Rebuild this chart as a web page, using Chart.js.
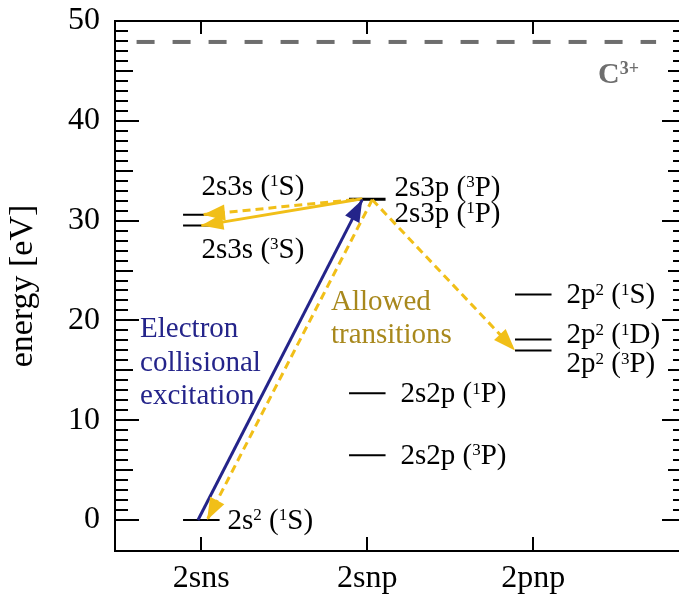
<!DOCTYPE html>
<html>
<head>
<meta charset="utf-8">
<script src="https://cdn.jsdelivr.net/npm/chart.js@4.4.1/dist/chart.umd.min.js"></script>
<style>
  html, body { margin: 0; padding: 0; background: #fff; overflow: hidden; }
  canvas { display: block; }
</style>
</head>
<body>
<canvas id="chart" width="679" height="599"></canvas>
<script>
// Configuration columns of the C III term diagram
const columns = ['2sns', '2snp', '2pnp'];
const columnPos = [0, 1, 2];

// Energy levels (eV) and which column they belong to; "^" marks a superscript
const levelNames  = ['2s^2 (^1S)', '2s2p (^3P)', '2s2p (^1P)', '2p^2 (^3P)', '2p^2 (^1D)', '2p^2 (^1S)', '2s3s (^3S)', '2s3s (^1S)', '2s3p (^1P)', '2s3p (^3P)'];
const levelColumn = [0, 1, 1, 2, 2, 2, 0, 0, 1, 1];
const levelEnergy = [0, 6.5, 12.7, 17.0, 18.1, 22.6, 29.5, 30.6, 32.1, 32.2];

// Ionisation limit to C3+
const ionLimit = 47.9;
const ionLabel = 'C^{3+}';

// Transitions: start and end points (column coordinate, energy in eV)
const excitationFrom = [-0.02, 0];
const excitationTo   = [0.97, 32.1];
const decayFromX = [1.03, 1.03, 0.92, 0.97];
const decayFromY = [32.1, 32.1, 32.1, 32.2];
const decayToX   = [0.035, 1.89, 0.01, 0.0];
const decayToY   = [0, 17.0, 30.6, 29.5];
const decayDashed = [true, true, true, false];

const yTickValues = [0, 10, 20, 30, 40, 50];

// ---- styling / layout -------------------------------------------------
const SERIF = '"Liberation Serif", "Times New Roman", serif';
const BLUE = '#24248a';
const YELLOW = '#f1bf18';
const GOLD = '#a8881c';
const GREY = '#6e6e6e';
const HALF = 0.11;          // half-width of a level bar in column units
const RIGHT_SPINE = 7;      // right spine sits just past the canvas edge
// label offsets: [dx from level's right end, baseline dy from the level], px
const labelOffset = [[8, 9], [15, 9], [15, 9], [15, 22], [15, 4], [15, 9], [-18, 32], [-18, -20], [9, 22], [9, -3]];

function parseRich(s) {
  const parts = [];
  let buf = '', i = 0;
  while (i < s.length) {
    if (s[i] === '^') {
      if (buf) { parts.push({ t: buf, sup: false }); buf = ''; }
      if (s[i + 1] === '{') {
        const j = s.indexOf('}', i);
        parts.push({ t: s.slice(i + 2, j), sup: true });
        i = j + 1;
      } else {
        parts.push({ t: s[i + 1], sup: true });
        i += 2;
      }
    } else { buf += s[i]; i++; }
  }
  if (buf) parts.push({ t: buf, sup: false });
  return parts;
}

function drawRich(ctx, s, x, y, size, color, weight) {
  ctx.save();
  ctx.fillStyle = color;
  ctx.textAlign = 'left';
  ctx.textBaseline = 'alphabetic';
  for (const p of parseRich(s)) {
    const fs = p.sup ? Math.round(size * 0.6) : size;
    ctx.font = `${weight || ''} ${fs}px ${SERIF}`;
    ctx.fillText(p.t, x, p.sup ? y - size * 0.3 : y);
    x += ctx.measureText(p.t).width;
  }
  ctx.restore();
}

// ---- datasets -----------------------------------------------------------
const levelData = [];
levelEnergy.forEach((e, i) => {
  const c = columnPos[levelColumn[i]];
  levelData.push({ x: c - HALF, y: e }, { x: c + HALF, y: e }, { x: c, y: null });
});

const datasets = [
  {
    label: 'excitation', arrow: true, order: 0,
    data: [{ x: excitationFrom[0], y: excitationFrom[1] }, { x: excitationTo[0], y: excitationTo[1] }],
    borderColor: BLUE, borderWidth: 3, pointRadius: 0
  }
];
decayToX.forEach((_, i) => {
  datasets.push({
    label: 'decay ' + i, arrow: true, order: 0,
    data: [{ x: decayFromX[i], y: decayFromY[i] }, { x: decayToX[i], y: decayToY[i] }],
    borderColor: YELLOW, borderWidth: 3, pointRadius: 0,
    borderDash: decayDashed[i] ? [8, 5] : []
  });
});
datasets.push({
  label: 'levels', order: 1, data: levelData, spanGaps: false,
  borderColor: '#000', borderWidth: 2, pointRadius: 0
});
datasets.push({
  label: 'ionisation', order: 2,
  data: [{ x: -0.39, y: ionLimit }, { x: 2.74, y: ionLimit }],
  borderColor: GREY, borderWidth: 4, borderDash: [18, 18], pointRadius: 0
});

// ---- drawing helpers ------------------------------------------------------
const diagram = {
  id: 'diagram',
  afterDatasetsDraw(chart) {
    const ctx = chart.ctx;
    chart.data.datasets.forEach((ds, i) => {
      if (!ds.arrow) return;
      const pts = chart.getDatasetMeta(i).data;
      const p0 = pts[pts.length - 2], p1 = pts[pts.length - 1];
      const ang = Math.atan2(p1.y - p0.y, p1.x - p0.x);
      const L = 22, W = 8;
      const bx = p1.x - L * Math.cos(ang), by = p1.y - L * Math.sin(ang);
      ctx.save();
      ctx.fillStyle = ds.borderColor;
      ctx.beginPath();
      ctx.moveTo(p1.x, p1.y);
      ctx.lineTo(bx + W * Math.sin(ang), by - W * Math.cos(ang));
      ctx.lineTo(bx - W * Math.sin(ang), by + W * Math.cos(ang));
      ctx.closePath();
      ctx.fill();
      ctx.restore();
    });
  },
  afterDraw(chart) {
    const { ctx, chartArea: a, scales: { x, y } } = chart;
    const right = a.right + RIGHT_SPINE;
    ctx.save();
    // frame
    ctx.strokeStyle = '#000';
    ctx.lineWidth = 2;
    ctx.strokeRect(a.left, a.top, right - a.left, a.bottom - a.top);
    // inward ticks
    ctx.beginPath();
    for (let v = 0; v <= 50; v++) {
      const len = v % 10 === 0 ? 24 : (v % 5 === 0 ? 18 : 13);
      const py = Math.round(y.getPixelForValue(v));
      ctx.moveTo(a.left, py); ctx.lineTo(a.left + len, py);
      ctx.moveTo(right, py); ctx.lineTo(right - len, py);
    }
    columnPos.forEach(c => {
      const px = Math.round(x.getPixelForValue(c));
      ctx.moveTo(px, a.top); ctx.lineTo(px, a.top + 13);
      ctx.moveTo(px, a.bottom); ctx.lineTo(px, a.bottom - 14);
    });
    ctx.stroke();
    ctx.restore();

    // level labels
    levelNames.forEach((name, i) => {
      const c = columnPos[levelColumn[i]];
      const px = x.getPixelForValue(c + HALF) + labelOffset[i][0];
      const py = y.getPixelForValue(levelEnergy[i]) + labelOffset[i][1];
      drawRich(ctx, name, px, py, 29, '#000');
    });

    // ionisation limit label
    drawRich(ctx, ionLabel, x.getPixelForValue(2.39), y.getPixelForValue(ionLimit) + 41, 30, GREY, 'bold');

    // annotations
    const ex = x.getPixelForValue(-0.369), ey = y.getPixelForValue(18.34);
    ['Electron', 'collisional', 'excitation'].forEach((t, k) => drawRich(ctx, t, ex, ey + k * 33.5, 29, BLUE));
    const ax = x.getPixelForValue(0.781), ay = y.getPixelForValue(21.04);
    ['Allowed', 'transitions'].forEach((t, k) => drawRich(ctx, t, ax, ay + k * 33, 29, GOLD));
  }
};

new Chart(document.getElementById('chart'), {
  type: 'line',
  data: { datasets },
  plugins: [diagram],
  options: {
    responsive: false,
    animation: false,
    devicePixelRatio: 1,
    layout: { padding: { top: 21, right: 0, left: 0, bottom: 0 } },
    plugins: { legend: { display: false }, tooltip: { enabled: false } },
    scales: {
      x: {
        type: 'linear', min: -0.52, max: 2.878,
        grid: { display: false, drawTicks: false },
        border: { display: false },
        afterBuildTicks: s => { s.ticks = columnPos.map(v => ({ value: v })); },
        afterFit: s => { s.height = 48; s.paddingLeft = 0; s.paddingRight = 0; },
        ticks: {
          padding: 8, maxRotation: 0, autoSkip: false, color: '#000',
          font: { family: SERIF, size: 32 },
          callback: v => columns[columnPos.indexOf(v)]
        }
      },
      y: {
        type: 'linear', min: -3.1, max: 50,
        grid: { display: false, drawTicks: false },
        border: { display: false },
        afterBuildTicks: s => { s.ticks = yTickValues.map(v => ({ value: v })); },
        afterFit: s => { s.width = 115; s.paddingTop = 0; s.paddingBottom = 0; },
        ticks: {
          padding: 15, color: '#000',
          font: { family: SERIF, size: 32 },
          callback: v => String(v)
        },
        title: {
          display: true, text: 'energy [eV]', color: '#000',
          font: { family: SERIF, size: 34 },
          padding: { top: 3, bottom: 0 }
        }
      }
    }
  }
});
</script>
</body>
</html>
